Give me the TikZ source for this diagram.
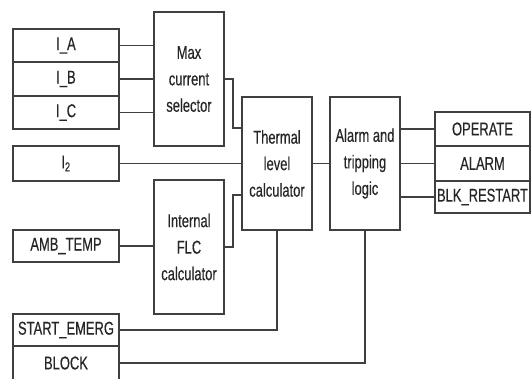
\documentclass[tikz,border=0pt]{standalone}
\usepackage{fontspec}
\setmainfont{Liberation Sans}[FakeStretch=0.7,FakeBold=0.4]
\definecolor{ln}{HTML}{404040}
\definecolor{tx}{HTML}{262626}
\begin{document}
\begin{tikzpicture}[x=1pt,y=-1pt,
  box/.style={draw=ln,line width=1.6pt,rectangle,inner sep=0pt,text=tx,align=center,
    font=\fontsize{18.5}{26.5}\selectfont},
  io/.style={box,minimum width=106pt},
  blk/.style={box,minimum width=70pt,minimum height=134pt},
  wire/.style={draw=ln,line width=1.6pt}]
\useasboundingbox (0,0) rectangle (532,378);
\clip (0,0) rectangle (532,378);
\node[io,minimum height=33pt] (IA) at (66,45.5) {I\_A};
\node[io,minimum height=34pt] (IB) at (66,79) {I\_B};
\node[io,minimum height=33pt] (IC) at (66,112.5) {I\_C};
\node[io,minimum height=35pt] (I2) at (66,163.5) {I\textsubscript{2}};
\node[io,minimum height=32pt] (AMB) at (66,246) {AMB\_TEMP};
\node[io,minimum height=32pt] (SE) at (66,330) {START\_EMERG};
\node[io,minimum height=34pt] (BL) at (66,363) {BLOCK};
\node[blk] (MAX) at (189,79) {Max\\current\\selector};
\node[blk] (FLC) at (189,247) {Internal\\FLC\\calculator};
\node[blk,minimum height=133pt] (TH) at (277,163.5) {Thermal\\level\\calculator};
\node[blk,minimum height=133pt] (AL) at (365,163.5) {Alarm and\\tripping\\logic};
\node[box,minimum width=95pt,minimum height=34pt] (OP) at (482.5,129) {OPERATE};
\node[box,minimum width=95pt,minimum height=35pt] (ALM) at (482.5,163.5) {ALARM};
\node[box,minimum width=95pt,minimum height=32pt] (BR) at (482.5,197) {BLK\_RESTART};
\coordinate (j1) at (233,79);
\coordinate (j2) at (233,128);
\coordinate (j3) at (233,247);
\coordinate (j4) at (233,195);
\path[wire] (IA.east) -- (IA.east -| MAX.west);
\path[wire] (IB.east) -- (IB.east -| MAX.west);
\path[wire] (IC.east) -- (IC.east -| MAX.west);
\path[wire] (MAX.east |- j1) -- (j1) -- (j2) -- (j2 -| TH.west);
\path[wire] (I2.east) -- (I2.east -| TH.west);
\path[wire] (AMB.east) -- (AMB.east -| FLC.west);
\path[wire] (FLC.east |- j3) -- (j3) -- (j4) -- (j4 -| TH.west);
\path[wire] (TH.east) -- (AL.west);
\path[wire] (AL.east |- OP.west) -- (OP.west);
\path[wire] (AL.east) -- (ALM.west);
\path[wire] (AL.east |- BR.west) -- (BR.west);
\path[wire] (SE.east) -- (SE.east -| TH.south) -- (TH.south);
\path[wire] (BL.east) -- (BL.east -| AL.south) -- (AL.south);
\end{tikzpicture}
\end{document}
